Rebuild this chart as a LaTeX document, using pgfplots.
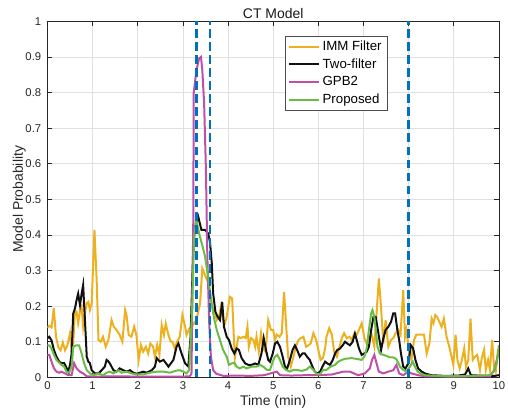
\documentclass[border=0pt]{standalone}
\usepackage{fontspec}
\setmainfont{Liberation Sans}
\usepackage{pgfplots}
\pgfplotsset{compat=1.18}
\definecolor{immc}{HTML}{EDB120}
\definecolor{twoc}{HTML}{111111}
\definecolor{gpbc}{HTML}{C04FA8}
\definecolor{propc}{HTML}{6BBC45}
\definecolor{vlc}{HTML}{0072BD}
\begin{document}
\begin{tikzpicture}
\begin{axis}[
  scale only axis, width=338.6bp, height=267bp,
  xmin=0, xmax=10, ymin=0, ymax=1,
  xtick={0,1,2,3,4,5,6,7,8,9,10},
  ytick={0,0.1,0.2,0.3,0.4,0.5,0.6,0.7,0.8,0.9,1},
  yticklabels={0,0.1,0.2,0.3,0.4,0.5,0.6,0.7,0.8,0.9,1},
  xticklabels={0,1,2,3,4,5,6,7,8,9,10},
  tick align=inside, major tick length=3.5bp,
  tick style={black!85, line width=0.5pt},
  axis line style={black!85, line width=0.5pt},
  grid=major, grid style={black!12, line width=0.5pt},
  ticklabel style={font=\fontsize{8.5}{10}\selectfont, text=black!85},
  yticklabel style={xshift=-1.2bp},
  /pgf/number format/assume math mode=true,
  every axis title shift=0pt,
  title={CT Model},
  title style={at={(axis description cs:0.5,1.0233)}, anchor=center, yshift=0pt, font=\fontsize{10.5}{12}\selectfont, text=black!90},
  xlabel={Time (min)},
  xlabel style={at={(axis description cs:0.5,-0.0697)}, anchor=center, yshift=0pt, font=\fontsize{10.5}{12}\selectfont, text=black!85},
  ylabel={Model Probability},
  ylabel style={at={(axis description cs:-0.0625,0.5)}, anchor=center, xshift=0pt, font=\fontsize{10.5}{12}\selectfont, text=black!85},
  legend style={at={(rel axis cs:0.526,0.959)}, anchor=north west, draw=black!70, line width=0.5pt, fill=white,
    font=\fontsize{10}{11}\selectfont, cells={anchor=west}, inner xsep=2bp, inner ysep=1.5bp, row sep=0.6bp},
  legend image code/.code={\draw[#1] (0bp,0bp) -- (22.5bp,0bp);},
]
\addplot[immc, line width=1.5bp] coordinates {
(0.00,0.14)(0.04,0.145)(0.09,0.14)(0.14,0.194)(0.19,0.114)(0.24,0.085)(0.29,0.076)(0.34,0.098)(0.39,0.076)(0.44,0.09)
(0.50,0.124)(0.535,0.076)(0.57,0.095)(0.61,0.185)(0.645,0.185)(0.68,0.152)(0.72,0.185)(0.757,0.198)(0.79,0.142)(0.83,0.18)
(0.87,0.208)(0.905,0.212)(0.94,0.189)(0.98,0.208)(1.04,0.414)(1.09,0.273)(1.13,0.105)(1.18,0.10)(1.23,0.114)(1.29,0.086)
(1.35,0.105)(1.42,0.161)(1.47,0.142)(1.53,0.133)(1.60,0.119)(1.66,0.10)(1.72,0.189)(1.75,0.175)(1.80,0.119)(1.86,0.114)
(1.92,0.142)(1.97,0.119)(2.02,0.049)(2.07,0.091)(2.12,0.072)(2.18,0.086)(2.23,0.067)(2.28,0.095)(2.34,0.086)(2.38,0.058)
(2.43,0.091)(2.48,0.063)(2.53,0.147)(2.58,0.119)(2.62,0.151)(2.68,0.119)(2.73,0.10)(2.77,0.10)(2.82,0.081)(2.87,0.10)
(2.93,0.114)(2.99,0.175)(3.05,0.142)(3.08,0.119)(3.14,0.137)(3.19,0.142)(3.24,0.151)(3.30,0.161)(3.38,0.208)(3.43,0.306)
(3.49,0.287)(3.55,0.269)(3.60,0.24)(3.65,0.198)(3.71,0.184)(3.75,0.161)(3.80,0.17)(3.84,0.198)(3.89,0.161)(3.93,0.152)
(3.97,0.17)(4.04,0.226)(4.09,0.222)(4.15,0.054)(4.19,0.086)(4.23,0.114)(4.28,0.11)(4.34,0.114)(4.39,0.11)(4.43,0.142)
(4.46,0.086)(4.51,0.11)(4.56,0.105)(4.60,0.086)(4.63,0.114)(4.68,0.072)(4.73,0.124)(4.78,0.081)(4.83,0.072)(4.89,0.161)
(4.95,0.133)(5.00,0.133)(5.04,0.105)(5.08,0.12)(5.14,0.114)(5.19,0.124)(5.24,0.24)(5.28,0.161)(5.33,0.058)(5.39,0.03)
(5.45,0.058)(5.50,0.086)(5.56,0.105)(5.61,0.11)(5.67,0.114)(5.73,0.086)(5.78,0.09)(5.83,0.095)(5.89,0.124)(5.95,0.105)
(6.00,0.077)(6.05,0.049)(6.10,0.054)(6.15,0.081)(6.18,0.114)(6.24,0.138)(6.30,0.12)(6.35,0.072)(6.41,0.058)(6.46,0.081)
(6.52,0.11)(6.57,0.124)(6.63,0.11)(6.69,0.114)(6.74,0.105)(6.80,0.124)(6.85,0.12)(6.90,0.133)(6.96,0.152)(7.02,0.11)
(7.07,0.095)(7.12,0.11)(7.18,0.12)(7.24,0.086)(7.29,0.18)(7.34,0.278)(7.38,0.212)(7.44,0.095)(7.49,0.161)(7.55,0.086)
(7.61,0.105)(7.66,0.11)(7.71,0.124)(7.77,0.133)(7.82,0.12)(7.88,0.245)(7.92,0.114)(7.95,0.133)(8.00,0.081)(8.06,0.049)
(8.12,0.105)(8.17,0.12)(8.25,0.12)(8.34,0.12)(8.40,0.067)(8.46,0.095)(8.51,0.165)(8.55,0.152)(8.59,0.175)(8.63,0.17)
(8.68,0.156)(8.73,0.142)(8.78,0.165)(8.84,0.114)(8.90,0.086)(8.95,0.058)(8.99,0.035)(9.04,0.12)(9.08,0.049)(9.13,0.025)
(9.18,0.049)(9.23,0.081)(9.27,0.03)(9.32,0.049)(9.37,0.165)(9.42,0.049)(9.47,0.058)(9.52,0.063)(9.58,0.021)(9.62,0.054)
(9.67,0.077)(9.71,0.021)(9.76,0.049)(9.80,0.021)(9.85,0.105)(9.89,0.03)(9.93,0.016)(9.98,0.077)(10.0,0.08)
};
\addlegendentry{IMM Filter}
\addplot[twoc, line width=1.5bp] coordinates {
(0.00,0.11)(0.04,0.114)(0.09,0.104)(0.145,0.076)(0.20,0.058)(0.26,0.044)(0.31,0.04)(0.37,0.04)(0.41,0.03)(0.46,0.016)
(0.50,0.035)(0.535,0.067)(0.57,0.179)(0.61,0.194)(0.645,0.217)(0.68,0.235)(0.72,0.203)(0.757,0.235)(0.79,0.259)(0.83,0.161)
(0.87,0.058)(0.905,0.044)(0.94,0.04)(0.98,0.02)(1.05,0.011)(1.13,0.011)(1.20,0.02)(1.27,0.03)(1.31,0.049)(1.35,0.045)
(1.40,0.035)(1.46,0.02)(1.53,0.016)(1.60,0.025)(1.68,0.02)(1.75,0.016)(1.83,0.02)(1.90,0.013)(1.97,0.01)(2.05,0.013)
(2.12,0.016)(2.20,0.013)(2.31,0.02)(2.38,0.03)(2.42,0.054)(2.49,0.044)(2.57,0.049)(2.68,0.03)(2.79,0.049)(2.86,0.086)
(2.90,0.095)(2.97,0.067)(3.05,0.039)(3.12,0.03)(3.17,0.114)(3.23,0.367)(3.27,0.423)(3.34,0.451)(3.41,0.414)(3.49,0.414)
(3.56,0.404)(3.60,0.38)(3.64,0.32)(3.67,0.236)(3.72,0.184)(3.77,0.17)(3.82,0.161)(3.87,0.212)(3.91,0.142)(3.97,0.114)
(4.02,0.105)(4.08,0.081)(4.14,0.067)(4.19,0.081)(4.24,0.077)(4.30,0.054)(4.38,0.039)(4.45,0.035)(4.52,0.035)(4.60,0.039)
(4.67,0.035)(4.74,0.067)(4.79,0.11)(4.84,0.077)(4.89,0.049)(4.93,0.044)(4.99,0.067)(5.04,0.095)(5.09,0.10)(5.15,0.086)
(5.21,0.058)(5.26,0.03)(5.31,0.025)(5.37,0.049)(5.43,0.077)(5.48,0.09)(5.53,0.077)(5.59,0.058)(5.65,0.067)(5.70,0.067)
(5.75,0.058)(5.81,0.049)(5.87,0.03)(5.92,0.016)(5.98,0.011)(6.04,0.016)(6.09,0.03)(6.15,0.044)(6.20,0.039)(6.26,0.035)
(6.32,0.049)(6.37,0.067)(6.42,0.077)(6.48,0.081)(6.54,0.09)(6.59,0.10)(6.64,0.095)(6.70,0.09)(6.76,0.10)(6.81,0.123)
(6.86,0.10)(6.90,0.081)(6.96,0.063)(7.02,0.067)(7.07,0.072)(7.12,0.086)(7.17,0.133)(7.22,0.17)(7.27,0.17)(7.33,0.124)
(7.39,0.077)(7.44,0.11)(7.49,0.133)(7.55,0.142)(7.61,0.156)(7.66,0.18)(7.70,0.18)(7.75,0.133)(7.79,0.105)(7.83,0.067)
(7.88,0.03)(7.93,0.025)(7.99,0.039)(8.05,0.09)(8.10,0.081)(8.15,0.049)(8.21,0.025)(8.29,0.016)(8.36,0.011)(8.50,0.006)
(8.80,0.004)(9.10,0.005)(9.25,0.008)(9.32,0.025)(9.38,0.006)(9.70,0.004)(9.90,0.004)(10.0,0.006)
};
\addlegendentry{Two-filter}
\addplot[gpbc, line width=1.5bp] coordinates {
(0.00,0.063)(0.04,0.063)(0.09,0.044)(0.145,0.025)(0.20,0.016)(0.26,0.013)(0.31,0.016)(0.39,0.011)(0.46,0.006)(0.535,0.006)
(0.59,0.04)(0.645,0.025)(0.72,0.016)(0.79,0.011)(0.87,0.003)(1.0,0.002)(1.5,0.003)(2.0,0.002)(2.5,0.002)(3.0,0.002)
(3.15,0.003)(3.19,0.01)(3.23,0.441)(3.24,0.80)(3.30,0.863)(3.36,0.896)(3.40,0.90)(3.43,0.863)(3.47,0.77)(3.51,0.582)
(3.54,0.348)(3.58,0.16)(3.62,0.058)(3.67,0.02)(3.74,0.01)(3.9,0.004)(4.2,0.005)(4.5,0.004)(4.8,0.006)(5.08,0.016)
(5.15,0.006)(5.4,0.005)(5.7,0.006)(6.0,0.006)(6.3,0.008)(6.55,0.016)(6.7,0.016)(6.88,0.006)(7.03,0.011)(7.14,0.025)
(7.19,0.049)(7.24,0.063)(7.29,0.039)(7.34,0.016)(7.44,0.011)(7.55,0.016)(7.66,0.02)(7.73,0.035)(7.79,0.011)(7.88,0.006)
(7.99,0.016)(8.06,0.011)(8.21,0.006)(8.36,0.003)(9.0,0.002)(9.8,0.003)(9.9,0.02)(9.97,0.058)(10.0,0.07)
};
\addlegendentry{GPB2}
\addplot[propc, line width=1.5bp] coordinates {
(0.00,0.09)(0.04,0.09)(0.09,0.081)(0.145,0.063)(0.20,0.049)(0.26,0.041)(0.31,0.035)(0.37,0.03)(0.42,0.016)(0.48,0.013)
(0.535,0.03)(0.57,0.085)(0.63,0.09)(0.70,0.09)(0.757,0.067)(0.81,0.04)(0.87,0.02)(0.94,0.011)(1.01,0.006)(1.13,0.011)
(1.24,0.006)(1.31,0.013)(1.38,0.016)(1.46,0.011)(1.57,0.02)(1.64,0.013)(1.75,0.016)(1.86,0.011)(1.97,0.008)(2.12,0.008)
(2.27,0.013)(2.42,0.016)(2.57,0.016)(2.71,0.013)(2.86,0.019)(2.93,0.02)(3.01,0.016)(3.08,0.011)(3.14,0.02)(3.20,0.179)
(3.25,0.395)(3.29,0.442)(3.30,0.441)(3.36,0.404)(3.41,0.38)(3.49,0.34)(3.56,0.28)(3.63,0.21)(3.70,0.16)(3.75,0.133)
(3.82,0.105)(3.89,0.077)(3.97,0.058)(4.02,0.035)(4.08,0.039)(4.14,0.041)(4.19,0.03)(4.26,0.025)(4.34,0.03)(4.41,0.025)
(4.52,0.03)(4.63,0.03)(4.71,0.035)(4.78,0.03)(4.86,0.021)(4.93,0.021)(4.99,0.044)(5.04,0.058)(5.09,0.063)(5.15,0.049)
(5.21,0.03)(5.28,0.021)(5.37,0.016)(5.45,0.021)(5.52,0.021)(5.63,0.018)(5.74,0.022)(5.81,0.03)(5.89,0.021)(5.96,0.01)
(6.04,0.01)(6.11,0.021)(6.18,0.021)(6.27,0.03)(6.37,0.035)(6.44,0.044)(6.52,0.049)(6.59,0.052)(6.74,0.054)(6.88,0.051)
(6.96,0.049)(7.02,0.058)(7.07,0.081)(7.12,0.133)(7.17,0.18)(7.20,0.189)(7.24,0.17)(7.28,0.124)(7.31,0.086)(7.36,0.067)
(7.44,0.063)(7.51,0.06)(7.59,0.056)(7.66,0.056)(7.73,0.051)(7.81,0.03)(7.88,0.021)(7.95,0.016)(8.03,0.03)(8.09,0.044)
(8.14,0.03)(8.20,0.016)(8.27,0.01)(8.36,0.006)(8.6,0.004)(9.0,0.003)(9.4,0.004)(9.8,0.006)(9.87,0.016)(9.95,0.039)(10.0,0.09)
};
\addlegendentry{Proposed}
\addplot[vlc, line width=1.75bp, dash pattern=on 6.5bp off 3.3bp, forget plot] coordinates {(3.3,0)(3.3,1)};
\addplot[vlc, line width=1.75bp, dash pattern=on 6.5bp off 3.3bp, forget plot] coordinates {(3.6,0)(3.6,1)};
\addplot[vlc, line width=1.75bp, dash pattern=on 6.5bp off 3.3bp, forget plot] coordinates {(8.0,0)(8.0,1)};
\coordinate (SW) at (rel axis cs:0,0);
\coordinate (NE) at (rel axis cs:1,1);
\end{axis}
\pgfresetboundingbox
\path ([shift={(-35.6bp,-26.3bp)}]SW) rectangle ([shift={(6.8bp,16bp)}]NE);
\end{tikzpicture}
\end{document}
